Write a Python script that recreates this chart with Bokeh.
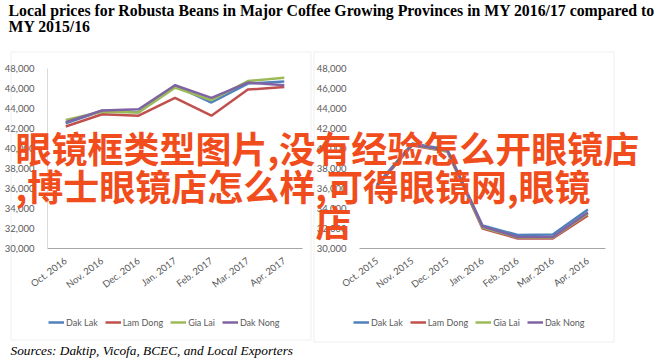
from bokeh.plotting import figure
from bokeh.models import (Range1d, FactorRange, FixedTicker, NumeralTickFormatter,
                          Label, BoxAnnotation, Legend, LegendItem)
from bokeh.layouts import column, row
from bokeh.embed import file_html
from bokeh.resources import INLINE

# ---------------- data ----------------
title_lines = ["Local prices for Robusta Beans in Major Coffee Growing Provinces in MY 2016/17 compared to",
               "MY 2015/16"]
source_text = "Sources: Daktip, Vicofa, BCEC, and Local Exporters"

series_names = ["Dak Lak", "Lam Dong", "Gia Lai", "Dak Nong"]
series_colors = ["#4F81BD", "#C0504D", "#9BBB59", "#8064A2"]

months_1617 = ["Oct. 2016", "Nov. 2016", "Dec. 2016", "Jan. 2017", "Feb. 2017", "Mar. 2017", "Apr. 2017"]
dak_lak_1617 = [42530, 43780, 43620, 46300, 44600, 46490, 46710]
lam_dong_1617 = [42200, 43420, 43280, 45060, 43280, 45890, 46150]
gia_lai_1617 = [42860, 43680, 43600, 46090, 44830, 46750, 47080]
dak_nong_1617 = [42630, 43800, 43920, 46320, 45060, 46590, 46320]

months_1516 = ["Oct. 2015", "Nov. 2015", "Dec. 2015", "Jan. 2016", "Feb. 2016", "Mar. 2016", "Apr. 2016"]
dak_lak_1516 = [36400, 40500, 39900, 32300, 31350, 31400, 33900]
lam_dong_1516 = [36200, 40300, 39700, 32000, 31000, 31000, 33300]
gia_lai_1516 = [36300, 40400, 39700, 32100, 31100, 31100, 33500]
dak_nong_1516 = [36300, 40400, 39800, 32200, 31150, 31150, 33600]

y_ticks = [30000, 32000, 34000, 36000, 38000, 40000, 42000, 44000, 46000, 48000]

watermark_lines = ["眼镜框类型图片,没有经验怎么开眼镜店", ",博士眼镜店怎么样,可得眼镜网,眼镜", "店"]

# ---------------- styles ----------------
W, H = 665, 359
LABEL_FONT = "Lato"
WM_FONT = "Noto Sans CJK SC"
WM_COLOR = "#F14D1C"
TXT_GRAY = "#595959"


def make_chart(months, values, width, ml, mr, mt, mb, show_yline):
    p = figure(width=width, height=H, output_backend="svg", toolbar_location=None,
               x_range=FactorRange(factors=months, range_padding=0),
               y_range=Range1d(30000, 48000),
               min_border_left=ml, min_border_right=mr, min_border_top=mt, min_border_bottom=mb)
    p.xgrid.visible = False
    p.ygrid.visible = False
    p.outline_line_color = None
    p.background_fill_color = "white"
    p.border_fill_color = "white"

    for col, vals in zip(series_colors, values):
        p.line(months, vals, line_color=col, line_width=2.5)

    yax = p.yaxis[0]
    yax.ticker = FixedTicker(ticks=y_ticks)
    yax.formatter = NumeralTickFormatter(format="0,0")
    yax.major_tick_line_color = None
    yax.minor_tick_line_color = None
    yax.axis_line_color = "#D9D9D9" if show_yline else None
    yax.major_label_text_font = LABEL_FONT
    yax.major_label_text_font_size = "9.5px"
    yax.major_label_text_color = TXT_GRAY
    yax.major_label_standoff = 7

    xax = p.xaxis[0]
    xax.major_tick_line_color = None
    xax.minor_tick_line_color = None
    xax.axis_line_color = "#A6A6A6"
    xax.major_label_orientation = 0.64
    xax.major_label_text_font = LABEL_FONT
    xax.major_label_text_font_size = "9.5px"
    xax.major_label_text_color = TXT_GRAY
    xax.major_label_standoff = 5
    return p


p_left = make_chart(months_1617, [dak_lak_1617, lam_dong_1617, gia_lai_1617, dak_nong_1617],
                    width=313, ml=47, mr=11, mt=68, mb=109, show_yline=True)
p_right = make_chart(months_1516, [dak_lak_1516, lam_dong_1516, gia_lai_1516, dak_nong_1516],
                     width=352, ml=37, mr=60, mt=68, mb=111, show_yline=False)

# ---------------- overlay: title, frames, legends, watermark, sources ----------------
ov = figure(width=W, height=H, output_backend="svg", toolbar_location=None,
            x_range=Range1d(0, W), y_range=Range1d(H, 0), x_axis_type=None, y_axis_type=None,
            min_border=0)
ov.grid.visible = False
ov.outline_line_color = None
ov.background_fill_alpha = 0
ov.border_fill_alpha = 0

# chart frames
for (l, r, t, b) in [(10.5, 310.5, 51.5, 339.5), (313.5, 613.5, 51.5, 341.5)]:
    ov.add_layout(BoxAnnotation(left=l, right=r, top=t, bottom=b, fill_alpha=0,
                                line_color="#C8C8C8", line_width=1))

# legend proxies (a single NaN point: nothing drawn) so legends can sit anywhere on the page
nan = float("nan")
proxies = [ov.line(x=[nan], y=[nan], line_color=c, line_width=2.5) for c in series_colors]
for lx in (48, 353):
    leg = Legend(items=[LegendItem(label=n, renderers=[r]) for n, r in zip(series_names, proxies)],
                 location=(lx, 31), orientation="horizontal",
                 border_line_color=None, background_fill_alpha=0, padding=0, margin=0,
                 spacing=7, glyph_width=16, glyph_height=12, label_standoff=2,
                 label_text_font=LABEL_FONT, label_text_font_size="9px",
                 label_text_color=TXT_GRAY, label_height=12)
    ov.add_layout(leg)

for i, line in enumerate(title_lines):
    ov.add_layout(Label(x=8, y=1 + 16 * i, text=line,
                        text_font="Liberation Serif", text_font_style="bold",
                        text_font_size="15.8px", text_color="black", text_baseline="top"))

for txt, (x, y) in zip(watermark_lines, [(15, 146.5), (15, 184), (315, 220)]):
    ov.add_layout(Label(x=x, y=y, text=txt, text_font=WM_FONT, text_font_size="36px",
                        text_font_style="bold", text_color=WM_COLOR,
                        text_baseline="middle", text_align="left"))

ov.add_layout(Label(x=10, y=349.5, text=source_text,
                    text_font="Liberation Serif", text_font_style="italic",
                    text_font_size="13.3px", text_color="black", text_baseline="middle"))

ov.margin = (-H, 0, 0, 0)

layout = column(row(p_left, p_right, spacing=0), ov, spacing=0)

open("out.html", "w").write(file_html(layout, INLINE))
